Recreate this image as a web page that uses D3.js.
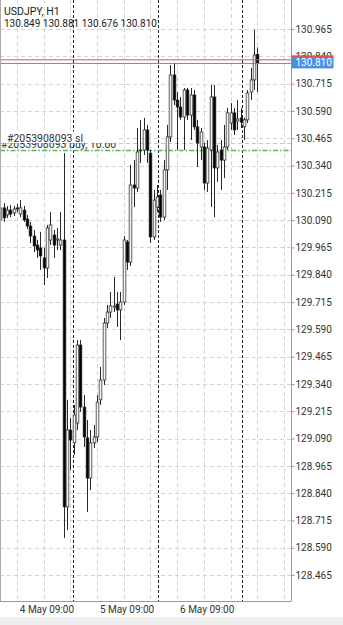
<!doctype html>
<html lang="en">
<head>
  <meta charset="utf-8">
  <script src="https://cdn.jsdelivr.net/npm/d3@7"></script>
</head>

<style>
    body {
        margin: 0;
        background-color: white;
        font-family: Roboto, "Noto Sans", sans-serif;
    }

    svg {
        display: block;
    }
</style>

<body>
</body>

<script>

    // ---- data ----
    let symbol = "USDJPY, H1"
    let firstBar = "2022-05-03T19:00:00Z"   // one bar per hour from here

    // [open, high, low, close]
    let candles = [
        [130.091, 130.214, 130.063, 130.146], [130.146, 130.168, 130.082, 130.100],
        [130.114, 130.155, 130.100, 130.136], [130.136, 130.159, 130.104, 130.118],
        [130.123, 130.155, 130.109, 130.141], [130.146, 130.164, 130.127, 130.141],
        [130.118, 130.182, 130.104, 130.146], [130.136, 130.155, 130.082, 130.091],
        [130.095, 130.114, 130.050, 130.063], [130.063, 130.082, 129.985, 130.017],
        [130.017, 130.045, 129.944, 129.972], [129.976, 129.999, 129.917, 129.953],
        [129.963, 130.036, 129.862, 129.926], [129.917, 129.963, 129.793, 129.871],
        [129.871, 130.068, 129.825, 130.054], [129.999, 130.127, 129.976, 130.068],
        [130.022, 130.045, 129.917, 129.976], [129.999, 130.054, 129.953, 130.004],
        [129.976, 130.127, 129.953, 129.999], [129.999, 130.397, 128.635, 128.777],
        [128.777, 129.267, 128.671, 129.129], [129.129, 129.184, 128.946, 129.083],
        [129.070, 129.244, 129.015, 129.198], [129.161, 129.541, 129.129, 129.518],
        [129.518, 129.541, 129.212, 129.234], [129.234, 129.289, 129.051, 129.097],
        [129.093, 129.175, 128.754, 128.909], [128.909, 129.129, 128.854, 129.070],
        [129.070, 129.152, 129.047, 129.097], [129.097, 129.289, 129.074, 129.257],
        [129.267, 129.418, 129.244, 129.358], [129.358, 129.642, 129.335, 129.619],
        [129.619, 129.702, 129.596, 129.669], [129.669, 129.761, 129.642, 129.697],
        [129.692, 129.830, 129.669, 129.697], [129.706, 129.761, 129.601, 129.679],
        [129.679, 129.761, 129.541, 129.715], [129.715, 130.017, 129.702, 129.999],
        [129.990, 129.999, 129.862, 129.898], [129.898, 130.343, 129.880, 130.251],
        [130.251, 130.365, 130.150, 130.237], [130.237, 130.512, 130.219, 130.402],
        [130.407, 130.549, 130.352, 130.411], [130.411, 130.558, 130.388, 130.503],
        [130.503, 130.526, 130.352, 130.411], [130.397, 130.411, 129.985, 130.013],
        [130.013, 130.228, 129.999, 130.182], [130.150, 130.251, 130.127, 130.196],
        [130.205, 130.228, 130.082, 130.104], [130.104, 130.365, 130.091, 130.320],
        [130.320, 130.526, 130.228, 130.471], [130.471, 130.800, 130.448, 130.755],
        [130.755, 130.810, 130.617, 130.640], [130.640, 130.676, 130.411, 130.608],
        [130.608, 130.654, 130.549, 130.562], [130.562, 130.695, 130.411, 130.686],
        [130.686, 130.695, 130.549, 130.571], [130.571, 130.695, 130.457, 130.663],
        [130.663, 130.686, 130.503, 130.517], [130.517, 130.549, 130.333, 130.443],
        [130.425, 130.512, 130.365, 130.494], [130.425, 130.443, 130.228, 130.260],
        [130.260, 130.457, 130.219, 130.420], [130.411, 130.709, 130.150, 130.654],
        [130.654, 130.709, 130.104, 130.329], [130.329, 130.434, 130.265, 130.402],
        [130.411, 130.457, 130.228, 130.365], [130.365, 130.526, 130.283, 130.425],
        [130.425, 130.604, 130.411, 130.581], [130.535, 130.626, 130.503, 130.581],
        [130.581, 130.604, 130.480, 130.503], [130.544, 130.640, 130.503, 130.553],
        [130.558, 130.604, 130.512, 130.539], [130.517, 130.558, 130.457, 130.549],
        [130.549, 130.686, 130.535, 130.672], [130.677, 130.787, 130.640, 130.732],
        [130.732, 130.961, 130.686, 130.846], [130.849, 130.881, 130.676, 130.810]
    ]

    let priceTicks = [128.465, 128.590, 128.715, 128.840, 128.965, 129.090, 129.215,
        129.340, 129.465, 129.590, 129.715, 129.840, 129.965, 130.090, 130.215,
        130.340, 130.465, 130.590, 130.715, 130.840, 130.965]

    let timeLabels = ["2022-05-04T09:00:00Z", "2022-05-05T09:00:00Z", "2022-05-06T09:00:00Z"]
    let separators = ["2022-05-04T16:56:00Z", "2022-05-05T18:08:00Z", "2022-05-06T19:20:00Z"]

    let bid = 130.810
    let ask = 130.824
    let orderLines = [
        {label: "#2053908093 sl", price: 130.443, kind: "sl"},
        {label: "#2053908093 buy, 10.00", price: 130.413, kind: "buy"}
    ]

    // ---- layout ----
    let W = 343, H = 625
    let plotRight = 291.5, plotBottom = 601

    let svg = d3.select('body')
        .append('svg')
        .attr('width', W)
        .attr('height', H)
        .style('font-family', 'Roboto, "Noto Sans", sans-serif')

    let t0 = new Date(firstBar)
    let hour = 3600 * 1000
    let barTime = i => new Date(t0.getTime() + i * hour)

    let x = d3.scaleUtc()
        .domain([barTime(-0.06), barTime(87.25)])
        .range([0, plotRight])

    let y = d3.scaleLinear()
        .domain([128.346, 131.098])
        .range([plotBottom, 0])

    // bottom bar
    svg.append('rect')
        .attr('x', 0).attr('y', 617)
        .attr('width', W).attr('height', H - 617)
        .attr('fill', '#efefef')

    // horizontal grid
    svg.append('g')
        .selectAll('line')
        .data(priceTicks)
        .join('line')
        .attr('x1', 0).attr('x2', plotRight)
        .attr('y1', d => Math.round(y(d)) + 0.5)
        .attr('y2', d => Math.round(y(d)) + 0.5)
        .attr('stroke', '#d4d4d4')
        .attr('stroke-dasharray', '4,3')

    // vertical grid, every 8 hours
    let gridTimes = d3.utcHour.every(8).range(barTime(-1), barTime(90))
        .filter(d => x(d) > 1 && x(d) < plotRight - 1)
    svg.append('g')
        .selectAll('line')
        .data(gridTimes)
        .join('line')
        .attr('x1', d => Math.round(x(d)) + 0.5)
        .attr('x2', d => Math.round(x(d)) + 0.5)
        .attr('y1', 0).attr('y2', plotBottom)
        .attr('stroke', '#d4d4d4')
        .attr('stroke-dasharray', '4,3')

    // dark separators
    svg.append('g')
        .selectAll('line')
        .data(separators.map(s => new Date(s)))
        .join('line')
        .attr('x1', d => Math.round(x(d)) + 0.5)
        .attr('x2', d => Math.round(x(d)) + 0.5)
        .attr('y1', 0).attr('y2', plotBottom)
        .attr('stroke', '#222')
        .attr('stroke-dasharray', '3,2')

    // order lines + labels
    let ol = svg.append('g')
    ol.selectAll('line')
        .data(orderLines)
        .join('line')
        .attr('x1', 0).attr('x2', plotRight)
        .attr('y1', d => Math.round(y(d.price)) + 0.5).attr('y2', d => Math.round(y(d.price)) + 0.5)
        .attr('stroke', d => d.kind == 'sl' ? '#d9c2ae' : '#5fb55f')
        .attr('stroke-width', d => d.kind == 'sl' ? 1 : 1.6)
        .attr('stroke-dasharray', d => d.kind == 'sl' ? '4,3' : '5,2,1.5,2')

    let buy = orderLines.find(d => d.kind == 'buy')
    let sl = orderLines.find(d => d.kind == 'sl')
    ol.append('text')
        .attr('x', 1).attr('y', y(buy.price) - 1.5)
        .attr('font-size', 10.5)
        .attr('fill', '#333')
        .text(buy.label)
    let slText = ol.append('text')
        .attr('x', 7).attr('y', y(sl.price) - 1.5)
        .attr('font-size', 10.5)
        .attr('fill', '#333')
        .text(sl.label)
    let bb = slText.node().getBBox()
    ol.insert('rect', 'text:last-child')
        .attr('x', 0).attr('y', bb.y)
        .attr('width', plotRight - 175).attr('height', y(sl.price) - bb.y)
        .attr('fill', 'white')

    // candles
    let bw = 2.7
    let cg = svg.append('g')
    let cs = cg.selectAll('g')
        .data(candles)
        .join('g')
    cs.append('line')
        .attr('x1', (d, i) => Math.round(x(barTime(i))) + 0.5)
        .attr('x2', (d, i) => Math.round(x(barTime(i))) + 0.5)
        .attr('y1', d => y(d[1]))
        .attr('y2', d => y(d[2]))
        .attr('stroke', '#111')
        .attr('stroke-width', 0.9)
    cs.append('rect')
        .attr('x', (d, i) => Math.round(x(barTime(i))) + 0.5 - bw / 2)
        .attr('width', bw)
        .attr('y', d => y(Math.max(d[0], d[3])))
        .attr('height', d => Math.max(0.8, Math.abs(y(d[0]) - y(d[3]))))
        .attr('fill', d => d[3] >= d[0] ? '#f4f4f4' : '#000')
        .attr('stroke', '#222')
        .attr('stroke-width', 0.7)

    // bid / ask lines
    svg.append('line')
        .attr('x1', 0).attr('x2', plotRight)
        .attr('y1', y(ask)).attr('y2', y(ask))
        .attr('stroke', '#d9534f')
    svg.append('line')
        .attr('x1', 0).attr('x2', plotRight)
        .attr('y1', y(bid) + 0.5).attr('y2', y(bid) + 0.5)
        .attr('stroke', '#7d7bb8')

    // frame
    svg.append('line')
        .attr('x1', 0.5).attr('x2', 0.5).attr('y1', 0).attr('y2', plotBottom)
        .attr('stroke', '#aaa')
    svg.append('line')
        .attr('x1', plotRight).attr('x2', plotRight).attr('y1', 0).attr('y2', plotBottom)
        .attr('stroke', '#999')
    svg.append('line')
        .attr('x1', 0).attr('x2', plotRight).attr('y1', plotBottom + 0.5).attr('y2', plotBottom + 0.5)
        .attr('stroke', '#999')

    // price axis
    let ya = svg.append('g')
        .attr('transform', 'translate(' + plotRight + ',0)')
        .call(d3.axisRight(y).tickValues(priceTicks).tickSize(3).tickFormat(d3.format('.3f')))
    ya.select('.domain').remove()
    ya.selectAll('line').attr('stroke', '#999')
    ya.selectAll('text')
        .attr('x', 4)
        .attr('fill', '#333')
        .attr('font-size', 10)
        .attr('font-family', 'Roboto, "Noto Sans", sans-serif')

    // ask stub + bid label on the axis
    svg.append('rect')
        .attr('x', plotRight).attr('y', y(ask) - 4.5)
        .attr('width', 42).attr('height', 2.5)
        .attr('fill', '#d9534f')
    svg.append('rect')
        .attr('x', plotRight).attr('y', y(bid) - 5.5)
        .attr('width', 42).attr('height', 11)
        .attr('fill', '#4a90e2')
    svg.append('text')
        .attr('x', plotRight + 4).attr('y', y(bid) + 3.5)
        .attr('font-size', 10)
        .attr('fill', 'white')
        .text(d3.format('.3f')(bid))

    // time axis labels
    svg.append('g')
        .selectAll('text')
        .data(timeLabels.map(s => new Date(s)))
        .join('text')
        .attr('x', d => x(d))
        .attr('y', 613)
        .attr('text-anchor', 'middle')
        .attr('font-size', 10)
        .attr('fill', '#333')
        .text(d3.utcFormat('%-d %b %H:%M'))

    // header
    let last = candles[candles.length - 1]
    svg.append('text')
        .attr('x', 4).attr('y', 15)
        .attr('font-size', 10.5)
        .attr('fill', '#222')
        .text(symbol)
    svg.append('text')
        .attr('x', 4).attr('y', 27)
        .attr('font-size', 10)
        .attr('fill', '#222')
        .text(last.map(d3.format('.3f')).join(' '))

</script>

</html>
